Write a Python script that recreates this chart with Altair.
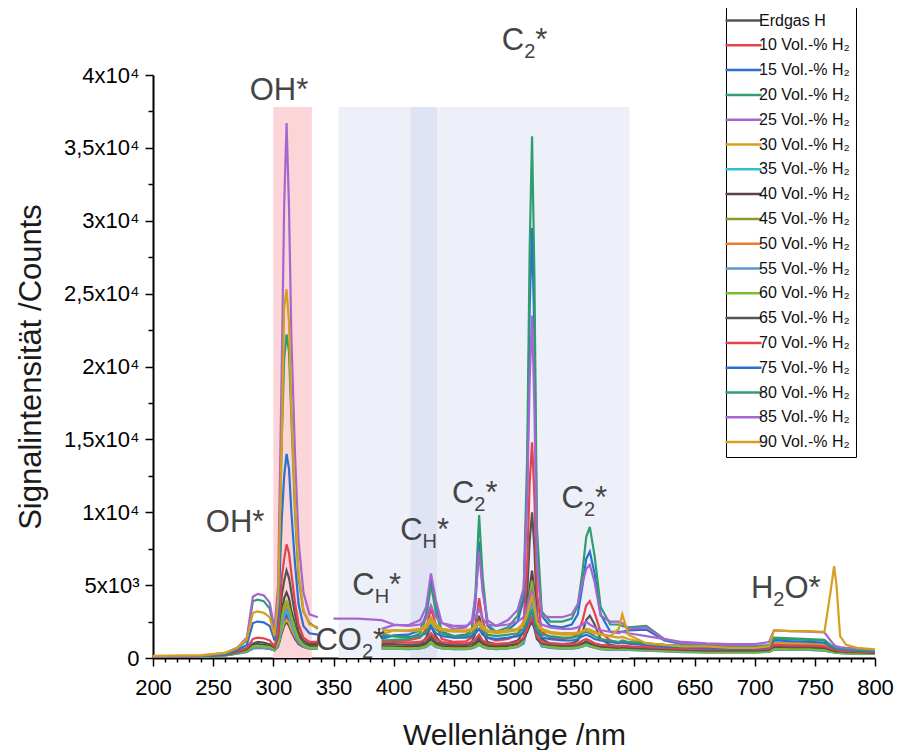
import altair as alt
import pandas as pd

# ---------------- data ----------------
wavelength = [200, 240, 260, 270, 278, 283, 287, 292, 297, 301,
              304, 307, 309, 311, 313, 315, 318, 321, 325, 330,
              337, 350, 370, 390, 400, 412, 422, 427, 431, 435,
              440, 450, 460, 465, 468, 471, 474, 478, 485, 495,
              503, 508, 511, 513, 515, 517, 519, 523, 530, 540,
              548, 553, 557, 560, 563, 567, 572, 580, 587, 590,
              595, 610, 625, 640, 660, 680, 700, 712, 716, 730,
              745, 758, 763, 766, 768, 771, 776, 785, 800]

erdgas = [80, 100, 180, 300, 420, 650, 700, 680, 620, 520,
          800, 1700, 2200, 2500, 2200, 1800, 1300, 950, 750, 650,
          650, 650, 650, 700, 750, 750, 900, 1400, 2200, 1500,
          950, 850, 900, 1100, 1700, 2900, 1800, 1100, 950, 1000,
          1200, 1800, 4500, 8000, 10000, 7500, 3000, 1300, 1000, 950,
          1000, 1200, 1800, 2600, 2900, 2300, 1300, 900, 800, 800,
          780, 700, 620, 560, 500, 480, 480, 520, 700, 680,
          660, 640, 520, 480, 460, 420, 400, 370, 330]
h10 = [80, 110, 200, 330, 460, 720, 760, 730, 680, 560,
       900, 1900, 2500, 2800, 2500, 2000, 1400, 1000, 800, 700,
       700, 750, 800, 900, 1200, 1200, 1400, 2000, 3400, 2300,
       1300, 1100, 1150, 1400, 2300, 4100, 2600, 1400, 1200, 1300,
       1600, 2500, 6500, 12000, 14800, 11000, 4500, 1800, 1400, 1300,
       1400, 1700, 2600, 3600, 3900, 3100, 1800, 1200, 1050, 1050,
       1000, 900, 780, 700, 620, 600, 600, 650, 900, 880,
       860, 840, 650, 600, 570, 520, 490, 450, 400]
h15 = [90, 120, 220, 360, 500, 780, 820, 800, 740, 600,
       950, 2000, 2700, 3000, 2700, 2200, 1500, 1100, 900, 800,
       800, 900, 1100, 1300, 1550, 1600, 1900, 3000, 5400, 3500,
       1800, 1500, 1600, 2000, 3800, 8000, 4800, 2200, 1700, 1900,
       2500, 4000, 12000, 24000, 29500, 22000, 8000, 2900, 2200, 2100,
       2300, 3000, 5000, 6800, 7300, 5800, 3000, 1800, 1800, 1800,
       1900, 1950, 1200, 950, 900, 800, 780, 820, 1000, 980,
       960, 940, 720, 650, 620, 570, 530, 480, 420]
h20 = [90, 120, 220, 370, 520, 800, 850, 820, 760, 620,
       1000, 2100, 2900, 3200, 2900, 2300, 1600, 1150, 950, 850,
       850, 950, 1100, 1200, 1250, 1300, 1700, 2800, 5000, 3200,
       1700, 1400, 1500, 2000, 4500, 9800, 5500, 2300, 1800, 2100,
       2900, 4500, 14000, 28000, 35800, 26000, 9000, 3200, 2500, 2500,
       2700, 3600, 6000, 8300, 9000, 7000, 3500, 2300, 2300, 2200,
       2100, 2200, 1300, 1000, 950, 850, 820, 860, 1300, 1280,
       1250, 1200, 800, 700, 660, 600, 560, 500, 440]
h25 = [90, 130, 230, 380, 540, 850, 900, 870, 800, 650,
       1050, 2200, 3000, 3400, 3000, 2400, 1700, 1250, 1000, 950,
       950, 1100, 1500, 2000, 2250, 2250, 2600, 3500, 5800, 4000,
       2400, 2000, 2100, 2600, 4200, 7300, 4500, 2600, 2200, 2600,
       3300, 4800, 11000, 19000, 23500, 17000, 6500, 2900, 2800, 2800,
       3000, 3700, 5200, 6100, 6400, 5200, 2900, 2500, 2500, 2400,
       2000, 2100, 1300, 1000, 950, 850, 820, 860, 1000, 980,
       960, 940, 800, 700, 660, 600, 560, 500, 440]
h30 = [100, 150, 260, 400, 560, 850, 900, 870, 800, 650,
       1050, 1900, 2400, 2600, 2400, 2000, 1500, 1200, 1100, 1050,
       1050, 1100, 1300, 1600, 1900, 1900, 2000, 2300, 2800, 2300,
       2000, 1900, 1900, 2000, 2200, 2500, 2200, 1900, 1800, 1900,
       2000, 2400, 3200, 4000, 4500, 3700, 2500, 2000, 1800, 1700,
       1700, 1750, 1850, 2000, 1950, 1800, 1650, 1500, 1400, 1450,
       1300, 1000, 900, 800, 750, 700, 700, 780, 1000, 980,
       960, 940, 800, 700, 650, 600, 560, 500, 440]
h35 = [80, 100, 180, 320, 450, 700, 740, 700, 650, 540,
       900, 2200, 2900, 3200, 2900, 2300, 1650, 1100, 800, 650,
       650, 650, 650, 650, 650, 610, 650, 750, 1000, 750,
       650, 610, 610, 650, 750, 900, 750, 650, 610, 650,
       750, 1000, 2000, 3200, 3800, 3000, 1500, 800, 700, 650,
       650, 700, 800, 880, 800, 700, 600, 560, 560, 560,
       560, 510, 470, 420, 390, 390, 390, 430, 560, 560,
       560, 510, 430, 390, 380, 340, 330, 300, 280]
h40 = [90, 120, 210, 380, 550, 900, 950, 900, 820, 650,
       1200, 3200, 4100, 4500, 4100, 3200, 2300, 1500, 1000, 800,
       800, 800, 800, 800, 800, 760, 800, 950, 1300, 950,
       800, 750, 750, 800, 950, 1200, 950, 800, 750, 800,
       900, 1300, 2800, 4800, 6000, 4500, 2000, 1000, 850, 800,
       800, 850, 1000, 1150, 1000, 850, 750, 700, 700, 700,
       700, 650, 580, 520, 480, 470, 470, 520, 700, 700,
       700, 650, 520, 470, 450, 420, 400, 360, 330]
h45 = [80, 100, 190, 330, 470, 750, 800, 750, 700, 580,
       950, 2600, 3400, 3800, 3400, 2700, 1900, 1250, 880, 690,
       690, 690, 690, 690, 690, 650, 690, 800, 1080, 800,
       690, 640, 640, 690, 800, 980, 800, 690, 640, 690,
       800, 1150, 2400, 4000, 5000, 3800, 1700, 880, 740, 690,
       690, 740, 840, 940, 840, 740, 640, 590, 590, 590,
       590, 540, 490, 440, 400, 400, 400, 440, 590, 590,
       590, 540, 450, 400, 390, 350, 340, 300, 290]
h50 = [90, 110, 200, 340, 480, 750, 800, 760, 700, 580,
       950, 2500, 3200, 3500, 3200, 2600, 1800, 1200, 850, 680,
       680, 680, 680, 680, 680, 640, 680, 780, 1050, 780,
       680, 630, 630, 680, 780, 950, 780, 680, 630, 680,
       780, 1100, 2200, 3600, 4400, 3300, 1600, 850, 720, 680,
       680, 720, 820, 920, 820, 720, 620, 580, 580, 580,
       580, 530, 480, 430, 400, 400, 400, 440, 580, 580,
       580, 530, 440, 400, 390, 350, 340, 310, 290]
h55 = [80, 100, 180, 320, 450, 700, 750, 700, 650, 550,
       900, 2300, 3000, 3300, 3000, 2400, 1700, 1100, 800, 650,
       650, 650, 650, 650, 650, 600, 650, 750, 1000, 750,
       650, 600, 600, 650, 750, 900, 750, 650, 600, 650,
       750, 1000, 2000, 3300, 4000, 3100, 1500, 800, 700, 650,
       650, 700, 800, 900, 800, 700, 600, 550, 550, 550,
       550, 500, 450, 400, 380, 380, 380, 420, 550, 550,
       550, 500, 420, 380, 370, 330, 320, 300, 280]
h60 = [80, 100, 200, 350, 500, 800, 850, 800, 750, 600,
       1000, 2800, 3600, 3900, 3500, 2800, 2000, 1300, 900, 700,
       700, 700, 700, 700, 700, 650, 700, 800, 1100, 800,
       700, 650, 650, 700, 800, 1000, 800, 700, 650, 700,
       800, 1200, 2500, 4300, 5300, 4000, 1800, 900, 750, 700,
       700, 750, 850, 950, 850, 750, 650, 600, 600, 600,
       600, 550, 500, 450, 400, 400, 400, 450, 600, 600,
       600, 550, 450, 400, 400, 350, 350, 300, 300]
h65 = [100, 120, 220, 400, 600, 1000, 1100, 1050, 950, 700,
       1500, 4300, 5300, 6000, 5500, 4500, 3000, 1800, 1200, 950,
       950, 950, 950, 950, 950, 900, 950, 1100, 1500, 1100,
       950, 900, 900, 950, 1100, 1400, 1100, 900, 850, 900,
       1000, 1300, 1800, 2200, 2500, 2000, 1300, 1000, 900, 850,
       850, 900, 1000, 1100, 1000, 900, 800, 750, 700, 750,
       700, 650, 600, 550, 500, 500, 500, 550, 800, 750,
       750, 700, 550, 500, 450, 450, 400, 400, 350]
h70 = [100, 150, 250, 450, 700, 1300, 1400, 1350, 1200, 800,
       1800, 5500, 6800, 7800, 7200, 5800, 3800, 2300, 1400, 1100,
       1100, 1100, 1100, 1100, 1100, 1050, 1100, 1300, 1700, 1300,
       1100, 1000, 1000, 1100, 1300, 1600, 1200, 1000, 950, 1000,
       1100, 1400, 2000, 2500, 2800, 2300, 1500, 1100, 1000, 950,
       950, 1000, 1200, 1300, 1200, 1000, 900, 850, 800, 850,
       800, 750, 700, 650, 600, 600, 600, 650, 900, 850,
       850, 800, 650, 600, 550, 500, 450, 450, 400]
h75 = [100, 150, 250, 550, 900, 2400, 2500, 2450, 2200, 1200,
       2800, 9500, 12500, 14000, 13000, 10000, 6500, 3700, 2200, 1700,
       1600, 1500, 1500, 1500, 1500, 1450, 1500, 1700, 2200, 1700,
       1500, 1400, 1400, 1500, 1700, 2000, 1600, 1400, 1300, 1400,
       1500, 1800, 2400, 2800, 3200, 2600, 1800, 1400, 1300, 1200,
       1200, 1300, 1500, 1600, 1500, 1300, 1200, 1100, 1000, 1100,
       1000, 900, 800, 750, 700, 650, 650, 750, 1200, 1150,
       1100, 1050, 800, 700, 650, 600, 550, 500, 450]
h80 = [100, 150, 300, 650, 1200, 3900, 4000, 3900, 3400, 1800,
       4000, 15000, 20500, 22200, 21000, 16500, 10000, 5500, 3200, 2400,
       2000, 1800, 1700, 1600, 1500, 1400, 1500, 1800, 2600, 2000,
       1700, 1500, 1500, 1700, 2000, 2400, 1900, 1600, 1500, 1600,
       1700, 2000, 2600, 3000, 3300, 2800, 2000, 1600, 1500, 1400,
       1400, 1500, 1700, 1800, 1700, 1500, 1300, 1200, 1100, 1200,
       1100, 1000, 900, 850, 800, 750, 750, 850, 1400, 1350,
       1300, 1250, 900, 750, 700, 650, 600, 550, 500]
h85 = [100, 150, 350, 700, 1400, 4200, 4400, 4300, 3800, 2000,
       5000, 20000, 31000, 36700, 31000, 22000, 14000, 8000, 4500, 3000,
       2800, 2700, 2700, 2600, 2300, 2200, 2300, 2700, 3600, 2800,
       2400, 2200, 2200, 2400, 2800, 3400, 2700, 2300, 2200, 2300,
       2500, 2800, 3600, 4200, 4600, 3800, 2800, 2300, 2100, 2000,
       2000, 2100, 2300, 2500, 2300, 2100, 1900, 1800, 1700, 1800,
       1700, 1500, 1300, 1100, 1000, 950, 950, 1100, 1900, 1850,
       1800, 1750, 1200, 900, 800, 750, 700, 650, 550]
h90 = [150, 200, 350, 700, 1300, 3100, 3200, 3100, 2800, 1500,
       4000, 15000, 24000, 25300, 23000, 17000, 10500, 5800, 3300, 2300,
       2100, 2000, 1950, 1900, 1900, 1850, 1900, 2100, 2600, 2100,
       1900, 1800, 1800, 1900, 2100, 2400, 2000, 1800, 1700, 1800,
       1900, 2300, 3000, 3700, 4200, 3500, 2400, 1900, 1700, 1600,
       1600, 1700, 1800, 1900, 1800, 1700, 1600, 1500, 2000, 3000,
       1600, 1000, 900, 800, 800, 700, 700, 800, 1900, 1850,
       1850, 1800, 4500, 6300, 5000, 1500, 900, 700, 600]

series_names = ["Erdgas H"] + [f"{p} Vol.-% H\u2082" for p in range(10, 95, 5)]
series_values = [erdgas, h10, h15, h20, h25, h30, h35, h40, h45, h50,
                 h55, h60, h65, h70, h75, h80, h85, h90]
series_colors = ["#555555", "#e3434f", "#2b6fd2", "#2e9e6d", "#a466d0", "#d6a01c",
                 "#2bc3d3", "#5c4242", "#8a9a2a", "#ef7b2a", "#5d95cf", "#78bd2c",
                 "#555555", "#e3434f", "#2b6fd2", "#2e9e6d", "#a466d0", "#d6a01c"]

# wavelength gap (no visible data) for all series except the 85 % one
gap_from = 337
gap_to = 390
continuous_series = ["85 Vol.-% H\u2082"]

# shaded emission bands
band_start = [300, 354, 414]
band_end = [332, 596, 436]
band_bottom = [0, 0, 0]
band_top = [37800, 37800, 37800]
band_fill = ["#fcd5d9", "#eef0f9", "#dfe3f3"]

# annotations: left x (nm), baseline y (counts), text parts
ann_x = [280.3, 243.9, 335.0, 365.6, 405.4, 448.4, 489.9, 539.5, 696.9]
ann_y = [38300, 8650, 550, 4320, 8100, 10630, 41700, 10290, 4120]
ann_base = ["OH*", "OH*", "CO", "C", "C", "C", "C", "C", "H"]
ann_sub = ["", "", "2", "H", "H", "2", "2", "2", "2"]
ann_tail = ["", "", "*", "*", "*", "*", "*", "*", "O*"]

x_all = list(range(200, 801, 10))
y_all = list(range(0, 40001, 2500))
y_major = [0, 5000, 10000, 15000, 20000, 25000, 30000, 35000, 40000]
y_labels = ["0", "5x10\u00b3", "1x10\u2074", "1,5x10\u2074", "2x10\u2074",
            "2,5x10\u2074", "3x10\u2074", "3,5x10\u2074", "4x10\u2074"]

# ---------------- tables ----------------
rows = []
for name, vals in zip(series_names, series_values):
    for w, v in zip(wavelength, vals):
        if name not in continuous_series and gap_from < w < gap_to:
            continue
        seg = 0 if w <= gap_from else 1
        rows.append({"wl": w, "val": v, "series": name, "path": f"{name}|{seg}"})
spec = pd.DataFrame(rows)

bands = pd.DataFrame({"start": band_start, "end": band_end, "bottom": band_bottom,
                      "top": band_top, "fill": band_fill})

W = 722
BASE_SIZE = 31
SUB_SIZE = 20
ADV = {"O": 0.778, "H": 0.722, "C": 0.722, "2": 0.556, "*": 0.389}
PX_PER_NM = W / 600.0


def width_nm(s, size):
    return sum(ADV[c] for c in s) * size / PX_PER_NM


ann = pd.DataFrame({
    "x": ann_x, "y": ann_y, "base": ann_base, "sub": ann_sub, "tail": ann_tail,
})
ann["x_sub"] = [x + width_nm(b, BASE_SIZE) for x, b in zip(ann_x, ann_base)]
ann["x_tail"] = [xs + width_nm(s, SUB_SIZE) for xs, s in zip(ann["x_sub"], ann_sub)]

# ---------------- scales / axes ----------------
xscale = alt.Scale(domain=[200, 800], nice=False, zero=False)
yscale = alt.Scale(domain=[0, 40000], nice=False)

ylab_expr = ""
for v, t in zip(y_major, y_labels):
    ylab_expr += f"datum.value === {v} ? '{t}' : "
ylab_expr += "''"

xaxis = alt.Axis(values=x_all, format="d", title="Wellenlänge /nm",
                 labelExpr="datum.value % 50 === 0 ? datum.label : ''",
                 tickSize={"condition": {"test": "datum.value % 50 === 0", "value": 8}, "value": 4},
                 labelOverlap=False, labelFlush=False, grid=False, labelPadding=11,
                 titlePadding=22, titleFontSize=30, labelFontSize=22)
yaxis = alt.Axis(values=y_all, title="Signalintensität /Counts",
                 labelExpr=ylab_expr,
                 tickSize={"condition": {"test": "datum.value % 5000 === 0", "value": 8}, "value": 5},
                 labelOverlap=False, labelFlush=False, grid=False, labelPadding=6,
                 titlePadding=16, titleFontSize=31, labelFontSize=22)

band_layer = alt.Chart(bands).mark_rect().encode(
    x=alt.X("start:Q", scale=xscale, axis=xaxis),
    x2="end:Q",
    y=alt.Y("bottom:Q", scale=yscale, axis=yaxis),
    y2="top:Q",
    fill=alt.Fill("fill:N", scale=None),
)

line_layer = alt.Chart(spec).mark_line(strokeWidth=2.2, interpolate="linear").encode(
    x=alt.X("wl:Q", scale=xscale, axis=xaxis),
    y=alt.Y("val:Q", scale=yscale, axis=yaxis),
    color=alt.Color("series:N",
                    scale=alt.Scale(domain=series_names, range=series_colors),
                    legend=alt.Legend(orient="none", legendX=573, legendY=-72, title=None,
                                      symbolType="M-1.8,0L1.8,0", symbolSize=400,
                                      symbolStrokeWidth=2.5, labelFontSize=16,
                                      labelFont="Liberation Sans", labelColor="#111111",
                                      rowPadding=4.8, padding=6, strokeColor="black",
                                      fillColor="white", labelLimit=200)),
    detail="path:N",
)

txt_color = "#454545"
base_layer = alt.Chart(ann).mark_text(align="left", baseline="alphabetic", fontSize=BASE_SIZE,
                                      font="Liberation Sans", color=txt_color).encode(
    x=alt.X("x:Q", scale=xscale, axis=xaxis),
    y=alt.Y("y:Q", scale=yscale, axis=yaxis),
    text="base:N",
)
sub_layer = alt.Chart(ann).mark_text(align="left", baseline="alphabetic", fontSize=SUB_SIZE,
                                     font="Liberation Sans", color=txt_color, dy=8).encode(
    x=alt.X("x_sub:Q", scale=xscale, axis=xaxis),
    y=alt.Y("y:Q", scale=yscale, axis=yaxis),
    text="sub:N",
)
tail_layer = alt.Chart(ann).mark_text(align="left", baseline="alphabetic", fontSize=BASE_SIZE,
                                      font="Liberation Sans", color=txt_color).encode(
    x=alt.X("x_tail:Q", scale=xscale, axis=xaxis),
    y=alt.Y("y:Q", scale=yscale, axis=yaxis),
    text="tail:N",
)

chart = alt.layer(band_layer, line_layer, base_layer, sub_layer, tail_layer).properties(
    width=W, height=583,
    autosize=alt.AutoSizeParams(type="none"),
    padding={"left": 145, "top": 67, "right": 19, "bottom": 92},
).configure_view(stroke=None).configure_axis(
    domainColor="black", domainWidth=2, tickColor="black", tickWidth=1.5,
    labelColor="black", labelFont="Liberation Sans",
    titleFont="Liberation Sans", titleFontWeight="normal",
    titleColor="#1a1a1a",
)

chart.save("out.html", embed_options={"renderer": "svg", "actions": False})
